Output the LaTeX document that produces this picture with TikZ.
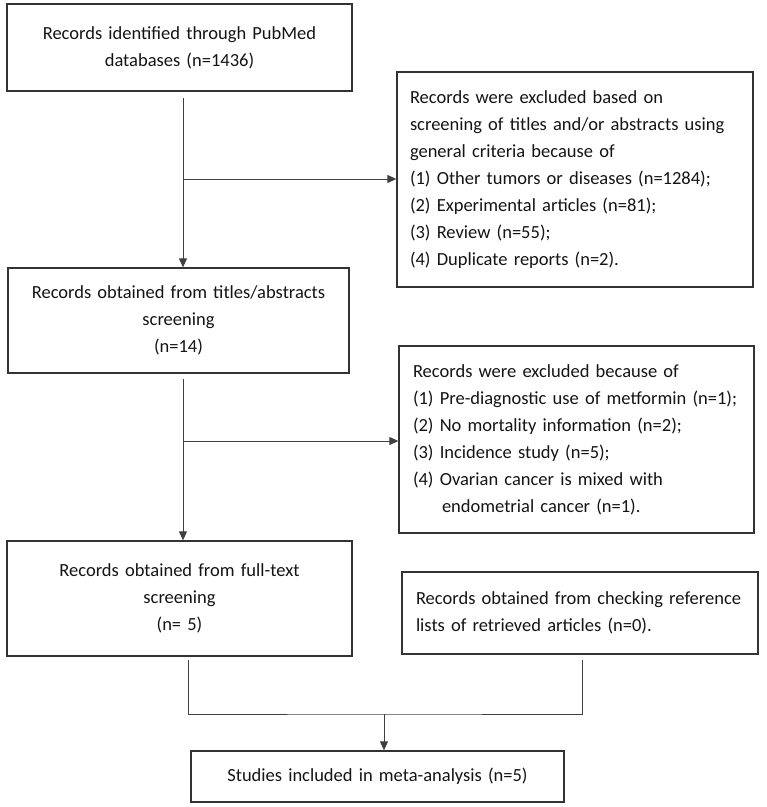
\documentclass[tikz,border=0pt]{standalone}
\usepackage{fontspec}
\setmainfont{Carlito}
\usetikzlibrary{arrows.meta}
\begin{document}
\begin{tikzpicture}[x=1pt,y=-1pt,
  box/.style={draw=black!80, line width=1.3pt, inner sep=0pt, font=\fontsize{18.5}{27}\selectfont, text=black!92},
  cbox/.style={box, align=center},
  lbox/.style={box, align=left},
  conn/.style={draw=black!75, line width=1pt},
  arr/.style={conn, -{Triangle[length=9pt,width=8pt]}}]
\useasboundingbox (0,0) rectangle (767,807);
\node[cbox, minimum width=345pt, minimum height=87pt, text width=330pt] (b1) at (179.5,47.5)
  {Records identified through PubMed\\databases (n=1436)};
\node[lbox, minimum width=356pt, minimum height=215pt, text width=330pt] (r1) at (575,179.5)
  {Records were excluded based on\\\mbox{screening of titles and/or abstracts using}\\general criteria because of\\\mbox{(1) Other tumors or diseases (n=1284);}\\(2) Experimental articles (n=81);\\(3) Review (n=55);\\(4) Duplicate reports (n=2).};
\node[cbox, minimum width=341pt, minimum height=105pt, text width=330pt] (b2) at (178.5,320.5)
  {Records obtained from titles/abstracts\\screening\\(n=14)};
\node[lbox, minimum width=355pt, minimum height=187pt, text width=327pt] (r2) at (576.5,439.5)
  {Records were excluded because of\\\mbox{(1) Pre-diagnostic use of metformin (n=1);}\\(2) No mortality information (n=2);\\(3) Incidence study (n=5);\\(4) Ovarian cancer is mixed with\\\hspace*{29pt}endometrial cancer (n=1).};
\node[cbox, minimum width=345pt, minimum height=115pt, text width=330pt] (b3) at (179.5,598.5)
  {Records obtained from full-text\\screening\\(n= 5)};
\node[lbox, minimum width=356pt, minimum height=82pt, text width=328pt] (r3) at (580,613)
  {\mbox{Records obtained from checking reference}\\lists of retrieved articles (n=0).};
\node[cbox, minimum width=373pt, minimum height=51pt, text width=360pt] (b4) at (377.5,776.5)
  {Studies included in meta-analysis (n=5)};
% connectors
\coordinate (j1) at (183,179);
\coordinate (j2) at (183,441);
\coordinate (j3) at (384,714);
\draw[arr] ([xshift=3.5pt,yshift=-6pt]b1.south) -- ([xshift=4.5pt]b2.north);
\draw[arr] (j1) -- (j1 -| r1.west);
\draw[arr] ([xshift=4.5pt,yshift=-5pt]b2.south) -- ([xshift=3.5pt]b3.north);
\draw[arr] (j2) -- (j2 -| r2.west);
\draw[conn] ([xshift=8.5pt,yshift=-3pt]b3.south) |- (j3) -| ([xshift=2pt,yshift=-5pt]r3.south);
\draw[arr] (j3) -- (j3 |- b4.north);
\end{tikzpicture}
\end{document}
